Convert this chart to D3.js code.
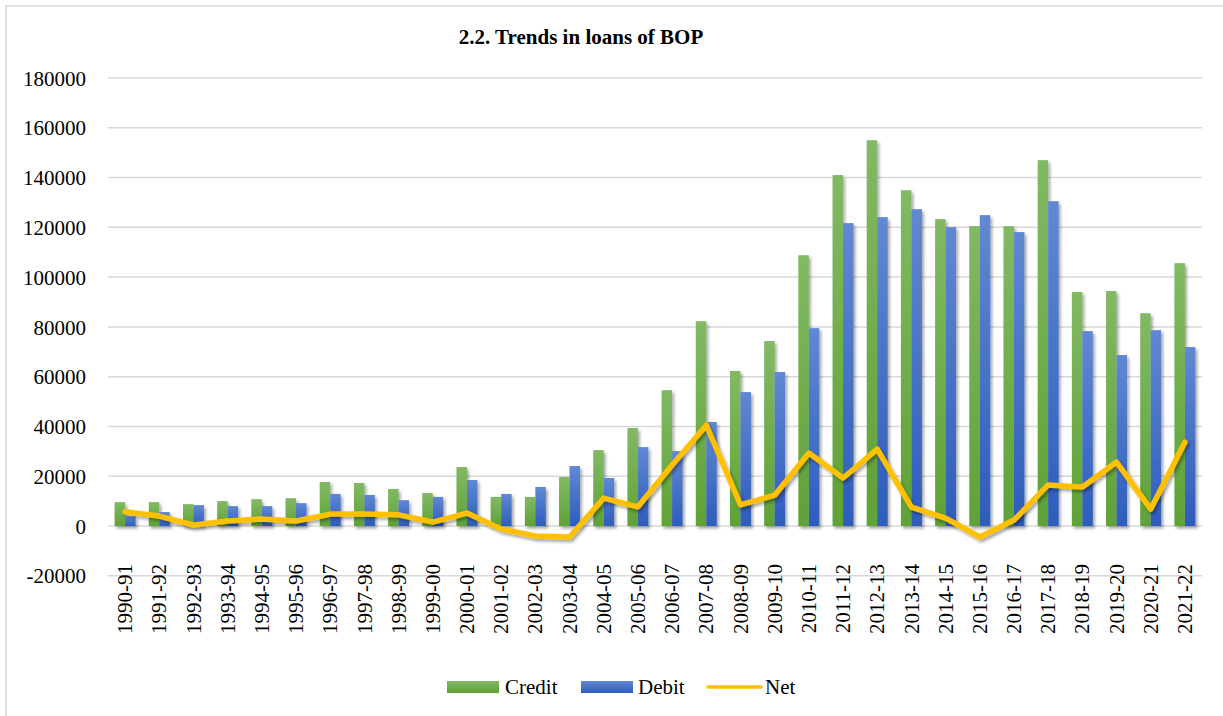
<!DOCTYPE html>
<html>
<head>
<meta charset="utf-8">
<script src="https://cdn.jsdelivr.net/npm/d3@7/dist/d3.min.js"></script>
<style>
  html, body { margin: 0; padding: 0; background: #fff; }
  svg { display: block; font-family: "Liberation Serif", "Times New Roman", serif; }
</style>
</head>
<body>
<svg id="chart" width="1223" height="716"></svg>
<script>
// Fiscal years
const categories = ["1990-91","1991-92","1992-93","1993-94","1994-95","1995-96","1996-97","1997-98",
  "1998-99","1999-00","2000-01","2001-02","2002-03","2003-04","2004-05","2005-06","2006-07","2007-08",
  "2008-09","2009-10","2010-11","2011-12","2012-13","2013-14","2014-15","2015-16","2016-17","2017-18",
  "2018-19","2019-20","2020-21","2021-22"];

// Loans: credit, debit and net
const credit = [9600, 9600, 8800, 10000, 10800, 11200, 17700, 17300, 14900, 13300, 23700, 11700, 11700,
  19700, 30500, 39400, 54600, 82300, 62300, 74300, 108800, 141000, 155000, 134900, 123300, 120500,
  120500, 147000, 94000, 94400, 85500, 105600];
const debit = [3900, 5600, 8400, 8000, 8000, 9200, 12900, 12500, 10400, 11700, 18500, 12900, 15700,
  24100, 19300, 31700, 30100, 41800, 53800, 61900, 79500, 121700, 124100, 127300, 120100, 124900,
  118100, 130500, 78300, 68700, 78700, 71900];
const net = [5700, 4000, 400, 2000, 2800, 2000, 4800, 4800, 4500, 1600, 5200, -1200, -4000, -4400,
  11200, 7700, 24500, 40500, 8500, 12400, 29300, 19300, 30900, 7600, 3200, -4400, 2400, 16500,
  15700, 25700, 6800, 33700];

const yTicks = [-20000, 0, 20000, 40000, 60000, 80000, 100000, 120000, 140000, 160000, 180000];

const svg = d3.select("#chart");
const defs = svg.append("defs");

// soft drop shadow for bars and line
const shadow = defs.append("filter").attr("id", "shadow")
  .attr("x", "-50%").attr("y", "-20%").attr("width", "200%").attr("height", "140%");
shadow.append("feDropShadow").attr("dx", 2).attr("dy", 2.5).attr("stdDeviation", 1.8)
  .attr("flood-color", "#000").attr("flood-opacity", 0.35);

function gradient(id, top, bottom) {
  const g = defs.append("linearGradient").attr("id", id)
    .attr("x1", 0).attr("y1", 0).attr("x2", 0).attr("y2", 1);
  g.append("stop").attr("offset", "0%").attr("stop-color", top);
  g.append("stop").attr("offset", "100%").attr("stop-color", bottom);
}
gradient("gCredit", "#82b964", "#5fa236");
gradient("gDebit", "#6188d3", "#2d5dbb");

// chart frame
svg.append("rect").attr("x", 6).attr("y", 6).attr("width", 1240).attr("height", 730)
  .attr("fill", "#fff").attr("stroke", "#d9d9d9").attr("stroke-width", 1.5);

const plot = { left: 108, right: 1202, top: 78, bottom: 575.8 };

const x = d3.scaleBand().domain(categories).range([plot.left, plot.right]).padding(0);
const x1 = d3.scaleBand().domain(["credit", "debit"]).range([0, x.bandwidth()])
  .paddingInner(0).paddingOuter(0.63);
const y = d3.scaleLinear().domain([-20000, 180000]).range([plot.bottom, plot.top]);

// title
svg.append("text").attr("x", 581).attr("y", 44).attr("text-anchor", "middle")
  .attr("font-size", 21).attr("font-weight", "bold").attr("fill", "#000")
  .text("2.2. Trends in loans of BOP");

// gridlines
svg.append("g").selectAll("line").data(yTicks).join("line")
  .attr("x1", plot.left).attr("x2", plot.right)
  .attr("y1", d => y(d)).attr("y2", d => y(d))
  .attr("stroke", "#d9d9d9").attr("stroke-width", 1.5);

// y axis labels (plain hyphen for negatives)
const yAxis = d3.axisLeft(y).tickValues(yTicks).tickSize(0).tickPadding(0)
  .tickFormat(d => String(d));
const yg = svg.append("g").attr("transform", `translate(86,0)`).call(yAxis);
yg.select(".domain").remove();
yg.attr("font-family", null).attr("font-size", null);
yg.selectAll("text").attr("font-size", 21).attr("font-family", "Liberation Serif, serif")
  .attr("fill", "#000").attr("dy", "0.34em");

// bars
const groups = svg.append("g").attr("filter", "url(#shadow)")
  .selectAll("g").data(categories).join("g")
  .attr("transform", d => `translate(${x(d)},0)`);
groups.append("rect")
  .attr("x", x1("credit")).attr("width", x1.bandwidth())
  .attr("y", (d, i) => y(Math.max(0, credit[i])))
  .attr("height", (d, i) => Math.abs(y(credit[i]) - y(0)))
  .attr("fill", "url(#gCredit)");
groups.append("rect")
  .attr("x", x1("debit")).attr("width", x1.bandwidth())
  .attr("y", (d, i) => y(Math.max(0, debit[i])))
  .attr("height", (d, i) => Math.abs(y(debit[i]) - y(0)))
  .attr("fill", "url(#gDebit)");

// net line
const line = d3.line()
  .x((d, i) => x(categories[i]) + x.bandwidth() / 2)
  .y(d => y(d));
svg.append("path").datum(net).attr("d", line)
  .attr("fill", "none").attr("stroke", "#ffc000").attr("stroke-width", 5.5)
  .attr("stroke-linejoin", "round").attr("stroke-linecap", "round")
  .attr("filter", "url(#shadow)");

// x axis labels (rotated)
svg.append("g").selectAll("text").data(categories).join("text")
  .attr("transform", d => `translate(${x(d) + x.bandwidth() / 2},564) rotate(-90)`)
  .attr("text-anchor", "end").attr("dy", "0.34em")
  .attr("font-size", 21).attr("fill", "#000")
  .text(d => d);

// legend
const legend = svg.append("g").attr("font-size", 21).attr("fill", "#000");
legend.append("rect").attr("x", 447).attr("y", 681).attr("width", 52).attr("height", 12)
  .attr("fill", "url(#gCredit)");
legend.append("text").attr("x", 505).attr("y", 694).text("Credit");
legend.append("rect").attr("x", 581).attr("y", 681).attr("width", 52).attr("height", 12)
  .attr("fill", "url(#gDebit)");
legend.append("text").attr("x", 638).attr("y", 694).text("Debit");
legend.append("line").attr("x1", 708).attr("x2", 761).attr("y1", 687).attr("y2", 687)
  .attr("stroke", "#ffc000").attr("stroke-width", 3.5).attr("stroke-linecap", "round");
legend.append("text").attr("x", 765).attr("y", 694).text("Net");
</script>
</body>
</html>
